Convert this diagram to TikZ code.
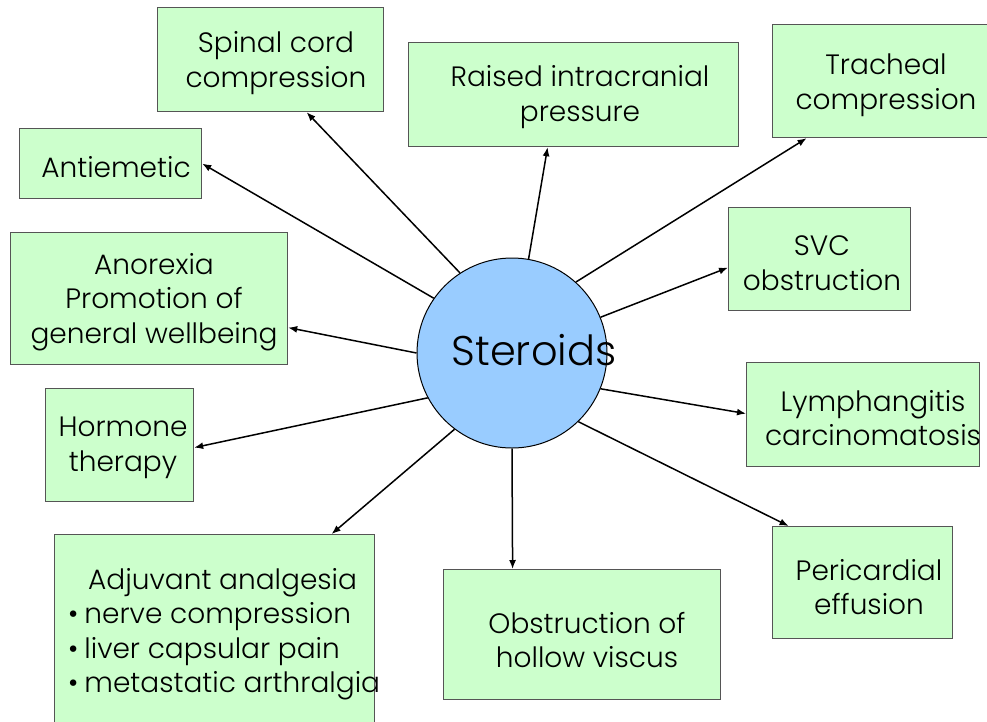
\documentclass[tikz,border=0pt]{standalone}
\usepackage{fontspec}
\setmainfont{Poppins Light}
\usetikzlibrary{arrows.meta}
\definecolor{boxgreen}{HTML}{CCFFCC}
\definecolor{boxedge}{HTML}{555555}
\definecolor{circblue}{HTML}{99CCFF}
\begin{document}
\begin{tikzpicture}[x=1pt,y=-1pt,
  box/.style={draw=boxedge,fill=boxgreen,line width=1.2pt,inner sep=0pt,anchor=north west},
  lbl/.style={align=center,inner sep=0pt,font=\fontsize{28}{34.5}\selectfont},
  conn/.style={line width=1.5pt,-{Latex[length=9pt,width=7pt]}}]
\clip (0,0) rectangle (987,721);
\fill[white] (0,0) rectangle (987,721);
% boxes
\node[box,minimum width=226pt,minimum height=104pt] (sp) at (157,7) {};
\node[box,minimum width=330pt,minimum height=104pt] (rp) at (408,42) {};
\node[box,minimum width=218pt,minimum height=113pt] (tc) at (772,24) {};
\node[box,minimum width=182pt,minimum height=70pt] (ae) at (19,128) {};
\node[box,minimum width=182pt,minimum height=103pt] (svc) at (728,207) {};
\node[box,minimum width=277pt,minimum height=132pt] (an) at (10,232) {};
\node[box,minimum width=233pt,minimum height=104pt] (ly) at (746,362) {};
\node[box,minimum width=148pt,minimum height=113pt] (ho) at (45,388) {};
\node[box,minimum width=180pt,minimum height=112pt] (pe) at (772,526) {};
\node[box,minimum width=277pt,minimum height=130pt] (ob) at (443,569) {};
\node[box,minimum width=320pt,minimum height=200pt] (ad) at (54,534) {};
% texts
\node[lbl] (tsp) at (276,63) {Spinal cord\\compression};
\node[lbl] (trp) at (580,97) {Raised intracranial\\pressure};
\node[lbl] (ttc) at (886,85) {Tracheal\\compression};
\node[lbl] (tae) at (116,167) {Antiemetic};
\node[lbl] (tsvc) at (822,263) {SVC\\obstruction};
\node[lbl] (tan) at (154,302) {Anorexia\\Promotion of\\general wellbeing};
\node[lbl] (tly) at (873,418) {Lymphangitis\\carcinomatosis};
\node[lbl] (tho) at (123,448) {Hormone\\therapy};
\node[lbl] (tpe) at (869,587) {Pericardial\\effusion};
\node[lbl] (tob) at (587,640) {Obstruction of\\hollow viscus};
\node[lbl,align=left,anchor=west] (tad) at (68,634) {\hspace*{20pt}Adjuvant analgesia\\\textbullet\hspace{6pt}nerve compression\\\textbullet\hspace{6pt}liver capsular pain\\\textbullet\hspace{6pt}metastatic arthralgia};
% centre
\node[circle,draw=black,fill=circblue,line width=1pt,minimum size=190pt,inner sep=0pt] (st) at (512,353) {};
\node[inner sep=0pt,font=\fontsize{41.5}{48}\selectfont] (tst) at (534,350) {Steroids};
% connectors
\draw[conn] (st.123.5) -- ([xshift=36pt]sp.south);
\draw[conn] (st.80) -- ([xshift=-26pt]rp.south);
\draw[conn] (st.48.5) -- ([xshift=-75pt]tc.south);
\draw[conn] (st.22) -- ([yshift=-8.5pt]svc.west);
\draw[conn] (st.-22) -- ([yshift=1pt]ly.west);
\draw[conn] (st.-46) -- ([xshift=-74pt]pe.north);
\draw[conn] (st.-90) -- ([xshift=-69.5pt]ob.north);
\draw[conn] (st.-127) -- ([xshift=117pt]ad.north);
\draw[conn] (st.-152.6) -- ([yshift=-2.5pt]ho.east);
\draw[conn] (st.180) -- ([yshift=-29pt]an.east);
\draw[conn] (st.145) -- (ae.east);
\end{tikzpicture}
\end{document}
